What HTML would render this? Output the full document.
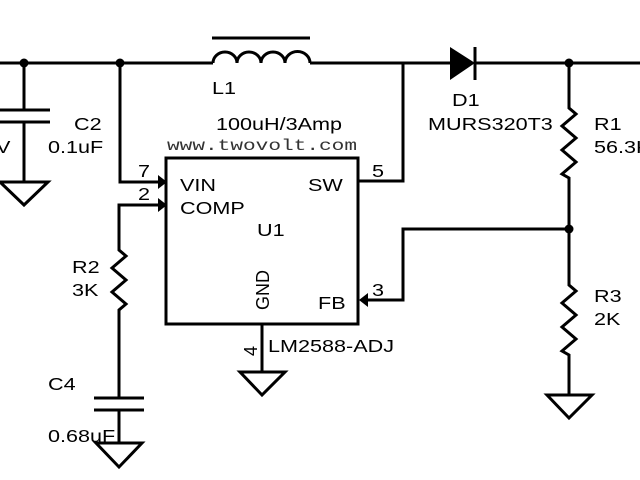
<!DOCTYPE html>
<html><head><style>
html,body{margin:0;padding:0;background:#fff;width:640px;height:480px;overflow:hidden}
svg{display:block}
text{font-family:"Liberation Sans",Arial,sans-serif;font-size:18px;fill:#000}
</style></head><body>
<svg width="640" height="480" viewBox="0 0 640 480" xmlns="http://www.w3.org/2000/svg">
<g stroke="#000" stroke-width="3" fill="none" stroke-linejoin="miter">
<path d="M0 63 H213 M310 63 H450 M475 63 H640"/>
<path d="M213 63 a12 11 0 0 1 24 0 a12 11 0 0 1 24 0 a12 11 0 0 1 24 0 a12 11 0 0 1 25 0"/>
<path d="M212 38 H310"/>
<path d="M24 63 V110 M0 110 H50 M0 122 H50 M24 122 V182"/>
<path d="M0 182 H48 L24 205 Z"/>
<path d="M120 63 V182 H162"/>
<path d="M166 205 H119 V250 l7 6 l-14 12 l14 12 l-14 12 l14 12 l-7 6 V398"/>
<path d="M94 398 H144 M94 410 H144 M119 410 V443"/>
<path d="M96 443 H142 L119 467 Z"/>
<rect x="166" y="158" width="192" height="166"/>
<path d="M262 324 V372"/>
<path d="M240 372 H285 L262 395 Z"/>
<path d="M358 181 H403 V63"/>
<path d="M475 47 V80"/>
<path d="M569 63 V108 l7 6 l-14 12 l14 12 l-14 12 l14 12 l-14 12 l7 4 V229"/>
<path d="M569 229 H403 V300 H362"/>
<path d="M569 229 V285 l7 6 l-14 12 l14 12 l-14 12 l14 12 l-14 12 l7 4 V395"/>
<path d="M547 395 H592 L569 418 Z"/>
</g>
<path d="M450 47 L475 63 L450 80 Z" fill="#000"/>
<path d="M158 175 L167 182 L158 189 Z" fill="#000"/>
<path d="M158 198 L167 205 L158 212 Z" fill="#000"/>
<path d="M368 293 L359 300 L368 307 Z" fill="#000"/>
<circle cx="24" cy="63" r="4.5" fill="#000"/>
<circle cx="120" cy="63" r="4.5" fill="#000"/>
<circle cx="569" cy="63" r="4.5" fill="#000"/>
<circle cx="569" cy="229" r="4.5" fill="#000"/>
<g>
<text transform="translate(212,94) scale(1.2,1)">L1</text>
<text transform="translate(216,130) scale(1.2,1)">100uH/3Amp</text>
<text x="167" y="150" textLength="190" lengthAdjust="spacingAndGlyphs" style="font-family:'Liberation Mono',monospace;font-size:16px;fill:#333">www.twovolt.com</text>
<text transform="translate(74,130) scale(1.2,1)">C2</text>
<text transform="translate(48,153) scale(1.2,1)">0.1uF</text>
<text transform="translate(-4,153) scale(1.2,1)">V</text>
<text transform="translate(138,177) scale(1.2,1)">7</text>
<text transform="translate(138,200) scale(1.2,1)">2</text>
<text transform="translate(180,191) scale(1.2,1)">VIN</text>
<text transform="translate(180,214) scale(1.2,1)">COMP</text>
<text transform="translate(257,236) scale(1.2,1)">U1</text>
<text transform="translate(308,191) scale(1.2,1)">SW</text>
<text transform="translate(372,177) scale(1.2,1)">5</text>
<text transform="translate(452,106) scale(1.2,1)">D1</text>
<text transform="translate(428,130) scale(1.2,1)">MURS320T3</text>
<text transform="translate(594,130) scale(1.2,1)">R1</text>
<text transform="translate(594,153) scale(1.2,1)">56.3K</text>
<text transform="translate(372,296) scale(1.2,1)">3</text>
<text transform="translate(318,309) scale(1.2,1)">FB</text>
<text transform="translate(269,310) rotate(-90)">GND</text>
<text transform="translate(257,356) rotate(-90)">4</text>
<text transform="translate(268,352) scale(1.2,1)">LM2588-ADJ</text>
<text transform="translate(72,273) scale(1.2,1)">R2</text>
<text transform="translate(72,296) scale(1.2,1)">3K</text>
<text transform="translate(594,302) scale(1.2,1)">R3</text>
<text transform="translate(594,325) scale(1.2,1)">2K</text>
<text transform="translate(48,390) scale(1.2,1)">C4</text>
<text transform="translate(48,442) scale(1.2,1)">0.68uF</text>
</g>
</svg>
</body></html>
